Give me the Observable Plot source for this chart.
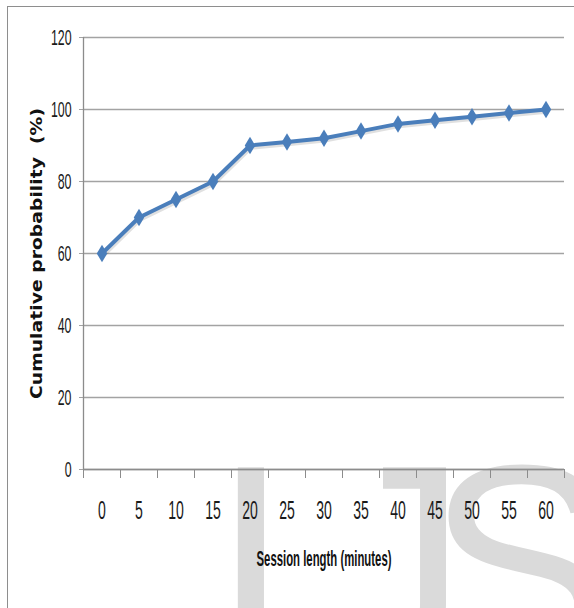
<!DOCTYPE html>
<html>
<head>
<meta charset="utf-8">
<script src="https://cdn.jsdelivr.net/npm/d3@7"></script>
<script src="https://cdn.jsdelivr.net/npm/@observablehq/plot@0.6"></script>
<style>
  body { margin: 0; background: #fff; }
  #wrap { position: relative; width: 574px; height: 608px; overflow: hidden; background: #fff; }
  #stamp { position: absolute; left: 0; top: 0; }
  #border { position: absolute; left: 7px; top: 6px; right: -4px; bottom: -4px;
            border-left: 1.5px solid #8e8e8e; border-top: 1.5px solid #8e8e8e; }
  #chart { position: absolute; left: 0; top: 0; }
</style>
</head>
<body>
<div id="wrap">
  <svg id="stamp" width="574" height="608">
    <text x="212" y="660" font-family="Liberation Sans, Arial, sans-serif" font-size="280" fill="#dadada"><tspan>I</tspan><tspan dx="37">J</tspan><tspan dx="-40">S</tspan></text>
  </svg>
  <div id="border"></div>
  <div id="chart"></div>
</div>
<script>
// Session length (minutes) and the cumulative probability (%) at each length
const sessionLength = [0, 5, 10, 15, 20, 25, 30, 35, 40, 45, 50, 55, 60];
const cumulativeProbability = [60, 70, 75, 80, 90, 91, 92, 94, 96, 97, 98, 99, 100];

// Axis ticks
const yTicks = [0, 20, 40, 60, 80, 100, 120];
const xTicks = [0, 5, 10, 15, 20, 25, 30, 35, 40, 45, 50, 55, 60];
const xCategoryEdges = [-2.5, 2.5, 7.5, 12.5, 17.5, 22.5, 27.5, 32.5, 37.5, 42.5, 47.5, 52.5, 57.5, 62.5];

const xTitle = "Session length (minutes)";
const yTitle = "Cumulative probability  (%)";
const yTitleLength = 291;
const xTitleWidth = 135;

// Tall, condensed lettering: glyphs are drawn small and stretched vertically
const stretch = 1.78;

const rows = sessionLength.map((x, i) => ({x, y: cumulativeProbability[i]}));

// A tall, narrow diamond marker
const tallDiamond = {
  draw(context, size) {
    const r = Math.sqrt(size / Math.PI);
    const hw = r * 1.05, hh = r * 1.75;
    context.moveTo(0, -hh);
    context.lineTo(hw, 0);
    context.lineTo(0, hh);
    context.lineTo(-hw, 0);
    context.closePath();
  }
};

const blue = "#4a7ebb";

const chart = Plot.plot({
  width: 574,
  height: 608,
  marginLeft: 83,
  marginRight: 10,
  marginTop: 37,
  marginBottom: 139,
  style: {background: "transparent", fontFamily: "Liberation Sans, Arial, sans-serif", color: "#1a1a1a"},
  x: {domain: [-2.5, 62.5]},
  y: {domain: [0, 120]},
  marks: [
    Plot.gridY(yTicks, {stroke: "#a3a3a3", strokeOpacity: 1, strokeWidth: 1.3}),
    Plot.axisY({ticks: yTicks, tickSize: 4, tickPadding: 8, fontSize: 22 / stretch, stroke: "#a3a3a3", fill: "#1a1a1a", label: null}),
    Plot.ruleX([-2.5], {stroke: "#8c8c8c", strokeWidth: 1.3}),
    Plot.ruleY([0], {stroke: "#8c8c8c", strokeWidth: 1.5}),
    Plot.axisX({ticks: xCategoryEdges, tickSize: 9, tickFormat: () => "", stroke: "#8c8c8c", label: null}),
    Plot.axisX({ticks: xTicks, tickSize: 0, tickPadding: 32, fontSize: 25 / stretch, fill: "#1a1a1a", label: null}),
    Plot.line(rows, {x: "x", y: "y", stroke: "#000", strokeOpacity: 0.12, strokeWidth: 4.5, dx: 1, dy: 2}),
    Plot.line(rows, {x: "x", y: "y", stroke: blue, strokeWidth: 4}),
    Plot.dot(rows, {x: "x", y: "y", symbol: tallDiamond, r: 5, fill: blue, stroke: "none"}),
    Plot.text([xTitle], {frameAnchor: "bottom", dy: 96, fontSize: 22, fontWeight: "bold", fill: "#111"}),
    // rotated title, anchored at its start and running upward over yTitleLength pixels
    Plot.text([yTitle], {frameAnchor: "left", dx: -47, dy: yTitleLength / 2, rotate: -90, textAnchor: "start",
                         fontSize: 16, fontWeight: "bold", fontFamily: "DejaVu Sans, Verdana, sans-serif", fill: "#111"})
  ]
});

document.getElementById("chart").appendChild(chart);

// Tick labels and the x title get tall condensed lettering; the y title is fitted to its length
d3.select(chart).selectAll("text").each(function () {
  const t = d3.select(this);
  const content = this.textContent;
  if (content === "") return;
  if (content === yTitle) {
    t.attr("textLength", yTitleLength).attr("lengthAdjust", "spacingAndGlyphs");
    return;
  }
  let sy = stretch;
  if (content === xTitle) {
    const sx = xTitleWidth / this.getComputedTextLength();
    t.attr("font-size", 22 * sx);
    sy = 1 / sx;
  }
  const tr = t.attr("transform") || "";
  t.attr("transform", tr + ` scale(1,${sy})`);
});
</script>
</body>
</html>
